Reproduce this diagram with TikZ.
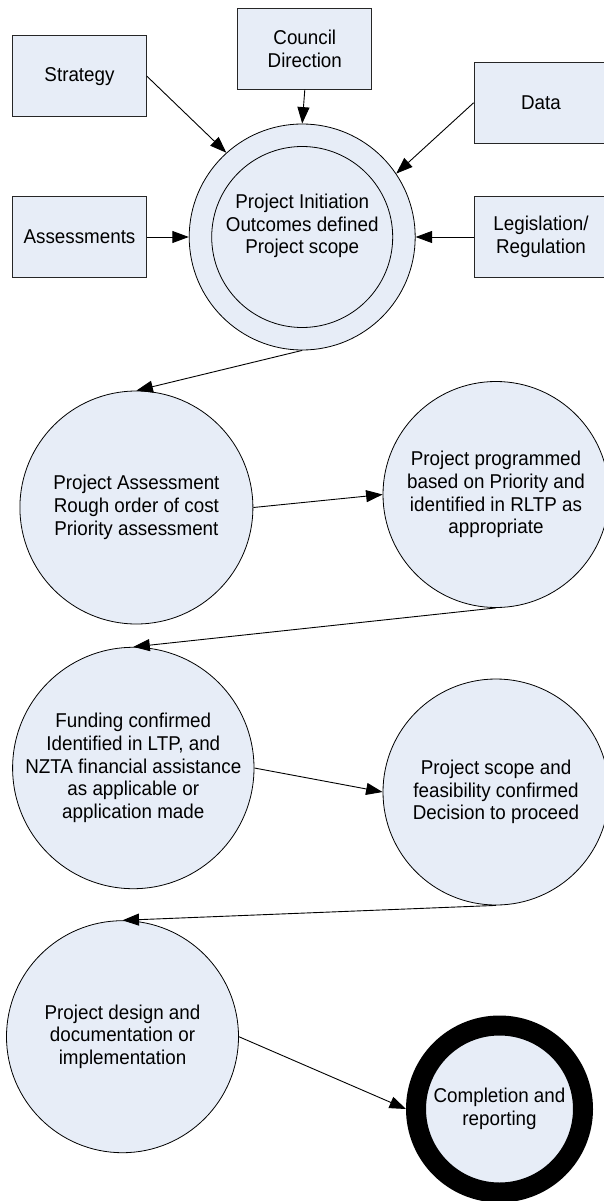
\documentclass[tikz,border=0pt]{standalone}
\usepackage{fontspec}
\setmainfont{Liberation Sans}[FakeStretch=0.94]
\usetikzlibrary{arrows.meta}
\definecolor{shfill}{RGB}{231,237,247}
\newcommand{\dgfont}{\fontsize{20pt}{22.7pt}\selectfont}
\begin{document}
\begin{tikzpicture}[x=1pt,y=-1pt,
  box/.style={draw=black!85, fill=shfill, line width=0.8pt, minimum width=134pt, minimum height=81pt, inner sep=0pt, align=center, font=\dgfont},
  bub/.style={draw=black, fill=shfill, circle, line width=0.8pt, inner sep=0pt, align=center, font=\dgfont},
  arr/.style={-{Triangle[length=16.5pt,width=12pt]}, line width=0.9pt}
]
\useasboundingbox (0,0) rectangle (604,1201);

% input boxes
\node[box] (strat) at (79.5,76.2) {Strategy};
\node[box] (council) at (304.8,48.8) {Council\\Direction};
\node[box] (data) at (541,102.8) {Data};
\node[box] (assess) at (79.5,237) {Assessments};
\node[box] (legis) at (541,237) {Legislation/\\Regulation};

% initiation double circle
\node[bub, minimum size=226pt] (init) at (302.2,237) {};
\node[bub, minimum size=181pt] (initin) at (302.2,237) {};
\node[font=\dgfont, align=center, inner sep=0pt] (initt) at (302.2,226) {Project Initiation\\Outcomes defined\\Project scope};

% process circles
\node[bub, minimum size=233pt] (pa) at (136.4,507.5) {Project Assessment\\Rough order of cost\\Priority assessment};
\node[bub, minimum size=226pt] (pp) at (496,494.5) {Project programmed\\based on Priority and\\identified in RLTP as\\appropriate};
\node[bub, minimum size=231pt] (fund) at (133.3,768) {Funding confirmed\\Identified in LTP, and\\NZTA financial assistance\\as applicable or\\application made};
\node[bub, minimum size=226pt] (scope) at (496,792) {Project scope and\\feasibility confirmed\\Decision to proceed};
\node[bub, minimum size=232pt] (design) at (122.5,1036.7) {Project design and\\documentation or\\implementation};
\node[bub, line width=20pt, minimum size=167pt] (comp) at (499.5,1109) {Completion and\\reporting};

% connectors
\draw[arr] (strat.east) -- (init.132);
\draw[arr] (council.south) -- (init.north);
\draw[arr] (data.west) -- (init.34);
\draw[arr] (assess.east) -- (init.west);
\draw[arr] (legis.west) -- (init.east);
\draw[arr] (init.south) -- (pa.north);
\draw[arr] (pa.east) -- (pp.west);
\draw[arr] (pp.south) -- (fund.north);
\draw[arr] (fund.east) -- (scope.west);
\draw[arr] (scope.south) -- (design.north);
\draw[arr] (design.east) -- (comp.west);
\end{tikzpicture}
\end{document}
